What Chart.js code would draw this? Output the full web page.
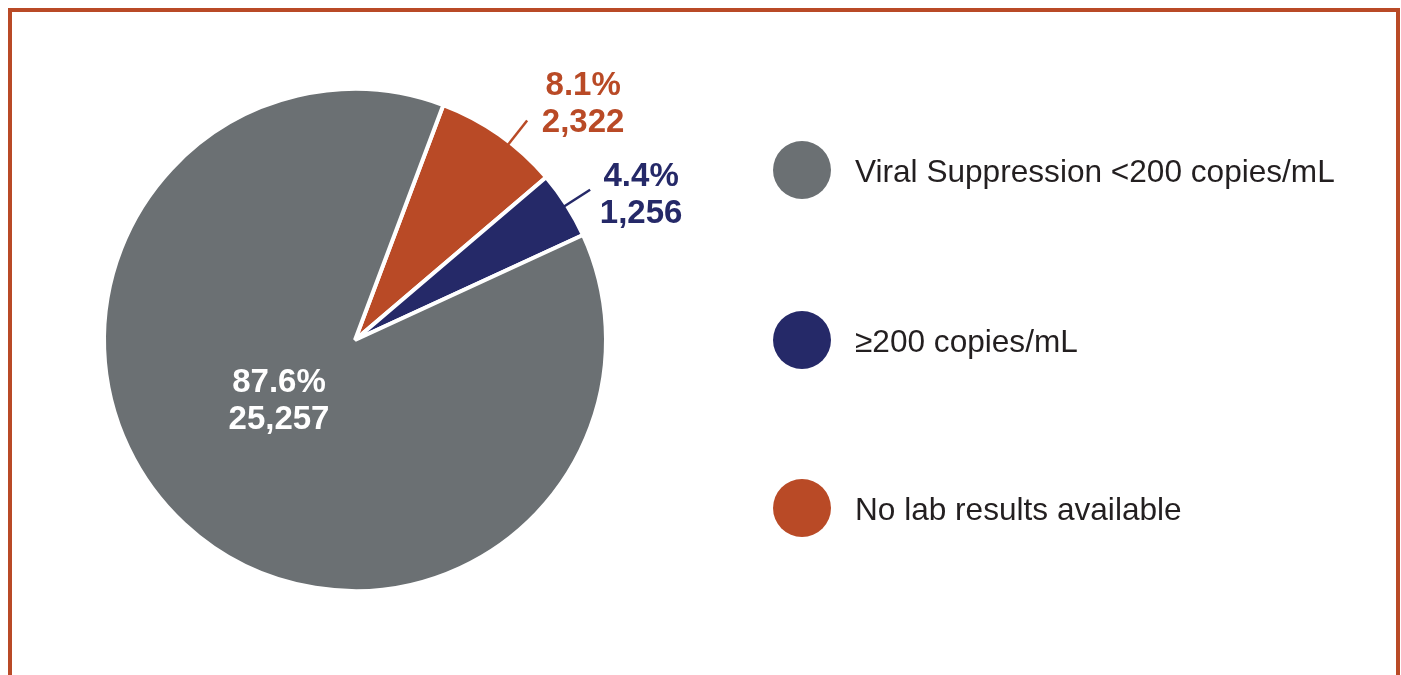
<!DOCTYPE html>
<html>
<head>
<meta charset="utf-8">
<script src="https://cdn.jsdelivr.net/npm/chart.js@4.4.1/dist/chart.umd.min.js"></script>
<style>
  html,body{margin:0;padding:0;background:#fff;overflow:hidden;}
  #wrap{position:relative;width:1401px;height:675px;}
  #frame{position:absolute;left:8px;top:8px;width:1392px;height:700px;border:4px solid #B94A26;border-bottom:none;box-sizing:border-box;}
  #c{position:absolute;left:0;top:0;}
  #legend{position:absolute;left:773px;top:0;font-family:"Liberation Sans",Arial,sans-serif;color:#231F20;}
  .item{position:absolute;left:0;display:flex;align-items:center;white-space:nowrap;height:58px;}
  .dot{width:58px;height:58px;border-radius:50%;flex:none;}
  .txt{font-size:31.6px;margin-left:24px;line-height:58px;position:relative;top:1px;}
</style>
</head>
<body>
<div id="wrap">
  <div id="frame"></div>
  <canvas id="c" width="1401" height="675"></canvas>
  <div id="legend"></div>
</div>
<script>
// Data (drawing order, clockwise from the start angle)
const categories = ["No lab results available", "≥200 copies/mL", "Viral Suppression <200 copies/mL"];
const values = [2322, 1256, 25257];
const colors = ["#B94A26", "#252968", "#6B7073"];
// Legend order as shown
const legendOrder = [2, 1, 0];

const total = values.reduce((a, b) => a + b, 0);
const fmtPct = v => (v / total * 100).toFixed(1) + "%";
const fmtNum = v => v.toLocaleString("en-US");

// label styling per slice: inside/outside placement
const labelCfg = [
  {outside: true, shift: 3, color: "#B94A26", dx: 56, dy: -16},
  {outside: true, shift: 0, color: "#252968", dx: 51, dy: 6},
  {outside: false, shift: 8, r: 0.39, color: "#FFFFFF"}
];

const sliceLabels = {
  id: "sliceLabels",
  afterDatasetsDraw(chart) {
    const ctx = chart.ctx;
    const meta = chart.getDatasetMeta(0);
    ctx.save();
    ctx.font = "bold 33px 'Liberation Sans', Arial, sans-serif";
    ctx.textAlign = "center";
    ctx.textBaseline = "middle";
    meta.data.forEach((arc, i) => {
      const p = arc.getProps(["x", "y", "startAngle", "endAngle", "outerRadius"], true);
      const cfg = labelCfg[i];
      const a = (p.startAngle + p.endAngle) / 2 + cfg.shift * Math.PI / 180;
      const lines = [fmtPct(values[i]), fmtNum(values[i])];
      let cx, cy;
      if (cfg.outside) {
        const r0 = p.outerRadius - 3, r1 = p.outerRadius + 28;
        const x0 = p.x + Math.cos(a) * r0, y0 = p.y + Math.sin(a) * r0;
        const x1 = p.x + Math.cos(a) * r1, y1 = p.y + Math.sin(a) * r1;
        ctx.strokeStyle = cfg.color;
        ctx.lineWidth = 2.5;
        ctx.beginPath(); ctx.moveTo(x0, y0); ctx.lineTo(x1, y1); ctx.stroke();
        cx = x1 + cfg.dx; cy = y1 + cfg.dy;
      } else {
        const r = p.outerRadius * cfg.r;
        cx = p.x + Math.cos(a) * r; cy = p.y + Math.sin(a) * r;
      }
      ctx.fillStyle = cfg.color;
      const lh = 37;
      ctx.fillText(lines[0], cx, cy - lh / 2);
      ctx.fillText(lines[1], cx, cy + lh / 2);
    });
    ctx.restore();
  }
};

new Chart(document.getElementById("c"), {
  type: "pie",
  data: {
    labels: categories,
    datasets: [{
      data: values,
      backgroundColor: colors,
      borderColor: "#FFFFFF",
      borderWidth: 4
    }]
  },
  options: {
    responsive: false,
    animation: false,
    rotation: 20.6,
    layout: {padding: {left: 102, top: 87, right: 793, bottom: 82}},
    plugins: {legend: {display: false}, tooltip: {enabled: false}}
  },
  plugins: [sliceLabels]
});

// Legend built from the same arrays
const legendCenters = [170, 340, 508];
const lg = document.getElementById("legend");
legendOrder.forEach((idx, k) => {
  const it = document.createElement("div");
  it.className = "item";
  it.style.top = (legendCenters[k] - 29) + "px";
  const d = document.createElement("div");
  d.className = "dot";
  d.style.background = colors[idx];
  const t = document.createElement("span");
  t.className = "txt";
  t.textContent = categories[idx];
  it.appendChild(d); it.appendChild(t);
  lg.appendChild(it);
});
</script>
</body>
</html>
